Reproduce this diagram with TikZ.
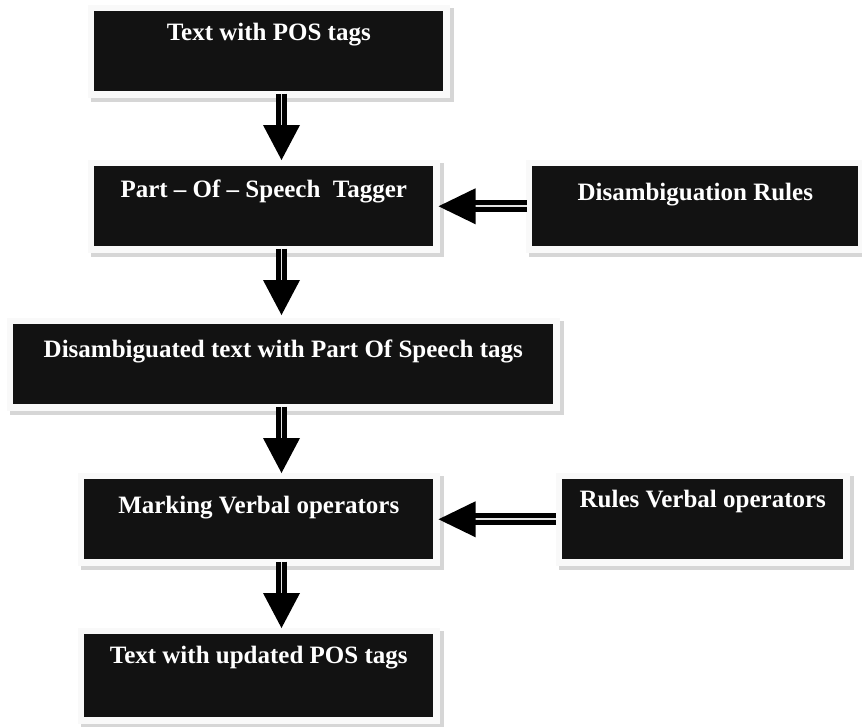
\documentclass[tikz,border=0pt]{standalone}
\usepackage{fontspec}
\setmainfont{Liberation Serif}
\usetikzlibrary{calc,backgrounds}
\newcommand\boxfont{\fontsize{18.75pt}{22pt}\selectfont\bfseries}
% light raised frame with a soft shadow behind a black box
\newcommand\blkframe[1]{%
  \fill[gray!32] ($(#1.north west)+(-3,-3)$) rectangle ($(#1.south east)+(10,10)$);
  \fill[gray!5] ($(#1.north west)+(-6,-6)$) rectangle ($(#1.south east)+(6,6)$);}
% downward double-shaft arrow between two stacked boxes
\newcommand\varrow[3]{%
  \draw[shaft] ($(#1.south -| ax)+(0,2)$) -- ($(#2.north -| ax)+(0,{-#3-34})$);
  \fill ($(#2.north -| ax)+(0,-#3)$) -- ++(-18.5,-35) -- ++(37,0) -- cycle;}
% leftward double-shaft arrow from a rules box into a process box
\newcommand\harrow[3]{%
  \draw[shaft] ($(#1.west)+(-#3,0)$) -- ($(#2.east |- #1.west)+(41,0)$);
  \fill ($(#2.east |- #1.west)+(5,0)$) -- ++(37,-18) -- ++(0,36) -- cycle;}
\begin{document}
\begin{tikzpicture}[x=0.75pt,y=-0.75pt,
  blk/.style={fill=black!93, text=white, font=\boxfont, inner sep=0pt,
    anchor=north west, minimum width=#1*0.75pt},
  txtbase/.style={text height=#1*0.75pt, text depth=(80-#1)*0.75pt},
  shaft/.style={draw=black, line width=3.75pt, double=white!78!gray,
    double distance=1.3pt}]
\useasboundingbox (0,0) rectangle (862,726);

\node[blk=349, txtbase=29] (b1) at (94,11)  {Text with POS tags};
\node[blk=339, txtbase=31] (b2) at (94,166) {Part – Of – Speech\ \ Tagger};
\node[blk=540, txtbase=33] (b3) at (13,324) {Disambiguated text with Part Of Speech tags};
\node[blk=349, txtbase=34] (b4) at (84,479) {Marking Verbal operators};
\node[blk=349, txtbase=29, text depth=40.5pt] (b5) at (84,634) {Text with updated POS tags};
\node[blk=326, txtbase=34] (r1) at (532,166) {Disambiguation Rules};
\node[blk=281, txtbase=28] (r2) at (562,479) {Rules Verbal operators};

\begin{scope}[on background layer]
  \blkframe{b1}\blkframe{b2}\blkframe{b3}\blkframe{b4}\blkframe{b5}
  \blkframe{r1}\blkframe{r2}
\end{scope}

\coordinate (ax) at (281.5,0);
\varrow{b1}{b2}{6}
\varrow{b2}{b3}{9}
\varrow{b3}{b4}{6}
\varrow{b4}{b5}{6}
\harrow{r1}{b2}{5}
\harrow{r2}{b4}{6}
\end{tikzpicture}
\end{document}
